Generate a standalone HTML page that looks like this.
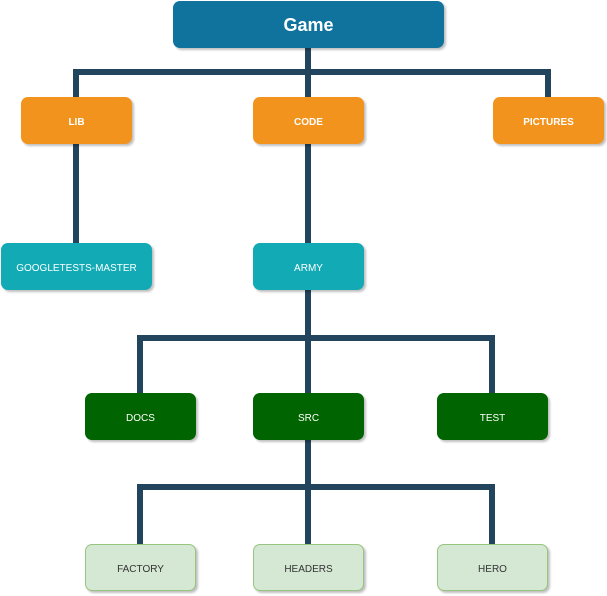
<!DOCTYPE html>
<html><head><style>
body{margin:0;width:607px;height:596px;background:#fff;position:relative;overflow:hidden;font-family:"Liberation Sans",sans-serif}
.b{position:absolute;border-radius:7px;display:flex;align-items:center;justify-content:center;font-size:10px;color:#fff;box-shadow:2px 2px 2px rgba(0,0,0,.25);box-sizing:border-box;padding-top:3px}
.o{background:#f2931e;font-weight:bold}
.t{background:#12aab5}
.g{background:#006400}
.l{background:#d5e8d4;border:1px solid #97c47e;color:#333}
</style></head><body>
<svg width="607" height="596" style="position:absolute;left:0;top:0">
<g stroke="#23445d" stroke-width="6" fill="none">
<path d="M308 48V72M76 97V72H548V97M308 72V97"/>
<path d="M76 144V243M308 144V243"/>
<path d="M308 290V393M140 393V338H492V393"/>
<path d="M308 440V544M140 544V487H492V544"/>
</g></svg>
<div class="b" style="left:173px;top:1px;width:271px;height:47px;background:#10739e;font-size:18px;font-weight:bold;padding-top:1px">Game</div>
<div class="b o" style="left:21px;top:97px;width:111px;height:47px">LIB</div>
<div class="b o" style="left:253px;top:97px;width:111px;height:47px">CODE</div>
<div class="b o" style="left:493px;top:97px;width:111px;height:47px">PICTURES</div>
<div class="b t" style="left:1px;top:243px;width:151px;height:47px">GOOGLETESTS-MASTER</div>
<div class="b t" style="left:253px;top:243px;width:111px;height:47px">ARMY</div>
<div class="b g" style="left:85px;top:393px;width:111px;height:47px">DOCS</div>
<div class="b g" style="left:253px;top:393px;width:111px;height:47px">SRC</div>
<div class="b g" style="left:437px;top:393px;width:111px;height:47px">TEST</div>
<div class="b l" style="left:85px;top:544px;width:111px;height:47px">FACTORY</div>
<div class="b l" style="left:253px;top:544px;width:111px;height:47px">HEADERS</div>
<div class="b l" style="left:437px;top:544px;width:111px;height:47px">HERO</div>
</body></html>
